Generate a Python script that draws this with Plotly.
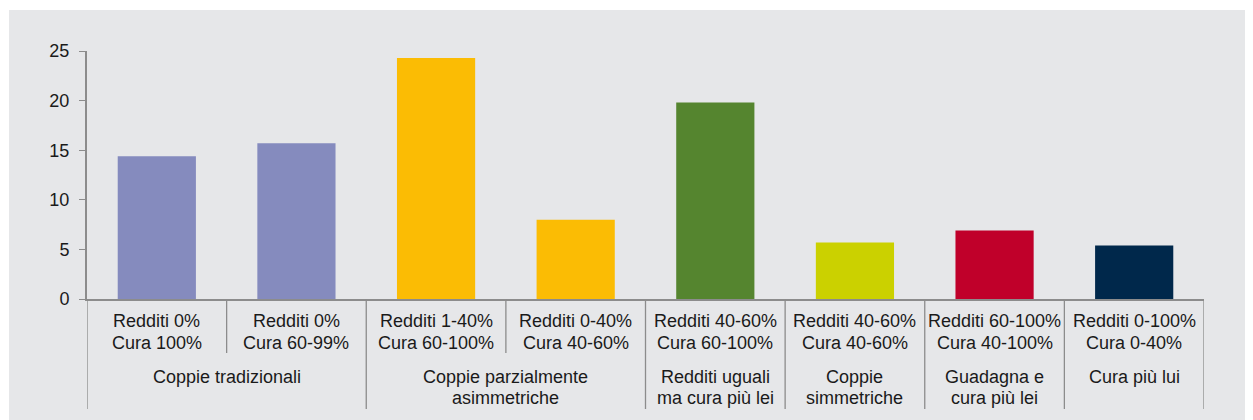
import plotly.graph_objects as go

# ---- data ----
categories = [
    "Redditi 0%<br>Cura 100%",
    "Redditi 0%<br>Cura 60-99%",
    "Redditi 1-40%<br>Cura 60-100%",
    "Redditi 0-40%<br>Cura 40-60%",
    "Redditi 40-60%<br>Cura 60-100%",
    "Redditi 40-60%<br>Cura 40-60%",
    "Redditi 60-100%<br>Cura 40-100%",
    "Redditi 0-100%<br>Cura 0-40%",
]
values = [14.4, 15.7, 24.3, 8.0, 19.8, 5.7, 6.9, 5.4]
bar_colors = ["#858BBE", "#858BBE", "#FBBC04", "#FBBC04",
              "#55852F", "#CBD100", "#C0002A", "#00284B"]
groups = [
    "Coppie tradizionali",
    "Coppie parzialmente<br>asimmetriche",
    "Redditi uguali<br>ma cura più lei",
    "Coppie<br>simmetriche",
    "Guadagna e<br>cura più lei",
    "Cura più lui",
]
group_first = [0, 2, 4, 5, 6, 7]
group_last = [1, 3, 4, 5, 6, 7]
y_ticks = [0, 5, 10, 15, 20, 25]

FONT = "Liberation Sans, Arial, sans-serif"
GRAY_BG = "#E6E7E9"
LINE = "#8C8C8C"
TXT = "#1a1a1a"
FS = 18

fig = go.Figure()
fig.add_trace(go.Bar(
    x=categories, y=values, marker=dict(color=bar_colors, line=dict(width=0)),
    width=0.56, hoverinfo="x+y",
))

# page-pixel -> paper y (plot area spans page y 51..299)
PLOT_H = 248.0
def py(px):
    return (299 - px) / PLOT_H

shapes = []
# gray panel background
shapes.append(dict(type="rect", xref="paper", yref="paper",
                   x0=(9 - 87) / 1117, x1=(1250 - 87) / 1117,
                   y0=py(430), y1=py(10), fillcolor=GRAY_BG,
                   line=dict(width=0), layer="below"))

# dividers
long_pos = [g - 0.5 for g in group_first] + [len(categories) - 0.5]
short_pos = [i + 0.5 for i in range(len(categories) - 1) if (i + 0.5) not in long_pos]
for xp in long_pos:
    shapes.append(dict(type="line", xref="x", yref="paper", x0=xp, x1=xp,
                       y0=0, y1=py(409), line=dict(color=LINE, width=1.3)))
for xp in short_pos:
    shapes.append(dict(type="line", xref="x", yref="paper", x0=xp, x1=xp,
                       y0=0, y1=py(353), line=dict(color=LINE, width=1.3)))

annotations = []
cat_line_y = [321.2, 342.8]
grp_line_y = [377.2, 397.8]
for i, c in enumerate(categories):
    for k, line in enumerate(c.split("<br>")):
        annotations.append(dict(x=i, y=py(cat_line_y[k]), xref="x", yref="paper",
                                text=line, showarrow=False, yanchor="middle",
                                xanchor="center", borderpad=0,
                                font=dict(family=FONT, size=FS, color=TXT)))
for g, a, b in zip(groups, group_first, group_last):
    for k, line in enumerate(g.split("<br>")):
        annotations.append(dict(x=(a + b) / 2, y=py(grp_line_y[k]), xref="x",
                                yref="paper", text=line, showarrow=False,
                                yanchor="middle", xanchor="center", borderpad=0,
                                font=dict(family=FONT, size=FS, color=TXT)))

# the page has an 8px body margin: compensate so the plot lands where intended
fig.update_layout(
    width=1245, height=412,
    margin=dict(l=79, r=49, t=43, b=121, pad=0),
    paper_bgcolor="white", plot_bgcolor=GRAY_BG,
    showlegend=False,
    font=dict(family=FONT, size=FS, color=TXT),
    shapes=shapes, annotations=annotations,
    xaxis=dict(type="category", categoryorder="array", categoryarray=categories,
               range=[-0.5, len(categories) - 0.5], showticklabels=False,
               showgrid=False, zeroline=False, showline=True, linecolor=LINE,
               linewidth=2, ticks="", fixedrange=True),
    yaxis=dict(range=[0, 25], tickvals=y_ticks, ticktext=[str(t) for t in y_ticks],
               showgrid=False, zeroline=False, showline=True, linecolor=LINE,
               linewidth=2, ticks="outside", ticklen=6, tickcolor=LINE, tickwidth=1.3,
               ticklabelstandoff=6, tickfont=dict(family=FONT, size=FS, color=TXT),
               fixedrange=True),
)

fig.write_html("out.html")
